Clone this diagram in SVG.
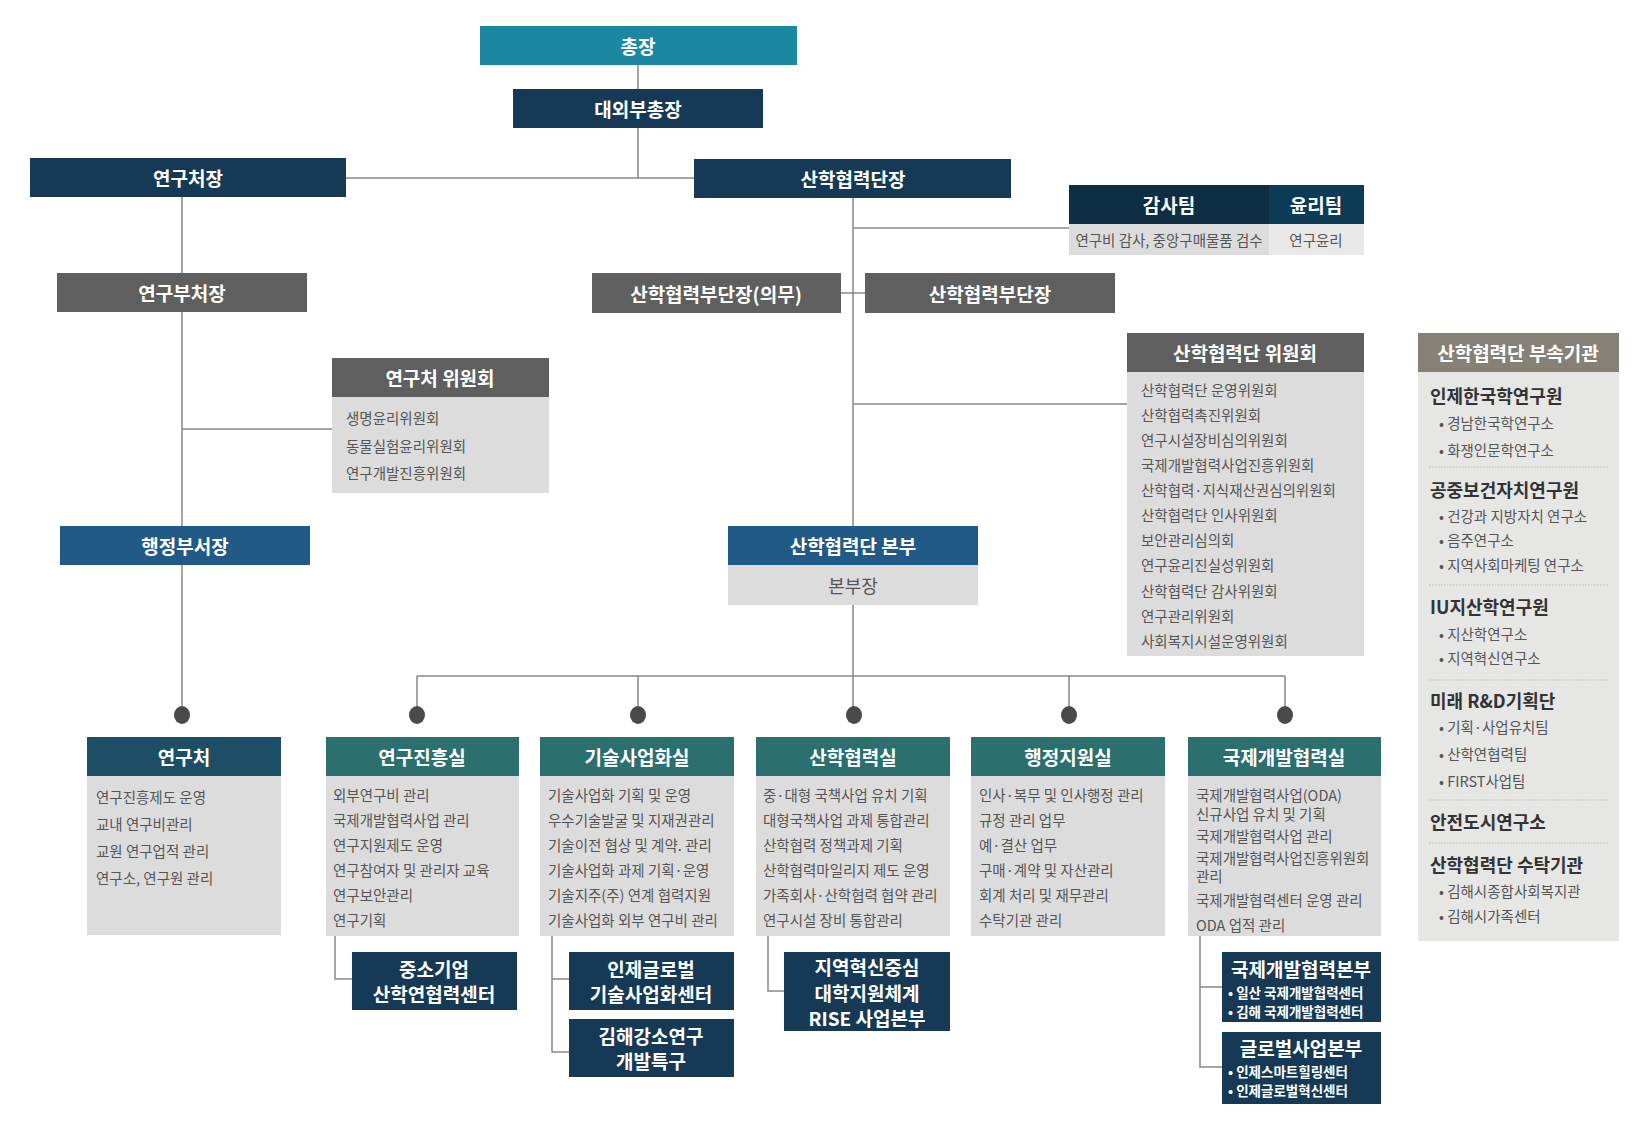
<svg xmlns="http://www.w3.org/2000/svg" width="1644" height="1127" viewBox="0 0 1644 1127">
<style>
text{font-family:"Noto Sans CJK KR","Noto Sans",sans-serif;dominant-baseline:central}
.h{fill:#fff;font-size:19px;font-weight:700;text-anchor:middle}
.b{fill:#555;font-size:14.5px}
.c{fill:#555;font-size:14.5px;text-anchor:middle}
.t{fill:#333;font-size:18px;font-weight:700}
.s{fill:#fff;font-size:13.5px;font-weight:700}
.ln{stroke:#888;stroke-width:1.5;fill:none}
.sep{stroke:#bbb;stroke-width:1;stroke-dasharray:1.5 1.5}
.navy{fill:#163a56}.grey{fill:#5e5f5e}.body{fill:#dcdcdc}.teal{fill:#2b6f6e}
</style>
<g id="connectors">
<path class="ln" d="M638 65V178M346 178H694M182 197V715M853 198V715M853 228H1069M853 404H1127M182 429H332M417 676H1285M417 676V715M638 676V715M1069 676V715M1285 676V715"/>
<path class="ln" d="M841 293H865"/>
<path class="ln" d="M335 936V979H352M552 936V1052H569M552 979H569M768 936V991H784M1200 936V1067H1222M1200 987H1222"/>
<g fill="#4a4a4a"><ellipse cx="182" cy="715" rx="8" ry="9"/><ellipse cx="417" cy="715" rx="8" ry="9"/><ellipse cx="638" cy="715" rx="8" ry="9"/><ellipse cx="854" cy="715" rx="8" ry="9"/><ellipse cx="1069" cy="715" rx="8" ry="9"/><ellipse cx="1285" cy="715" rx="8" ry="9"/></g>
</g>
<g id="president"><rect x="480" y="26" width="317" height="39" fill="#1b87a1"/><text class="h" x="638" y="45">총장</text></g>
<g id="vp"><rect class="navy" x="513" y="89" width="250" height="39"/><text class="h" x="638" y="108">대외부총장</text></g>
<g id="research-head"><rect class="navy" x="30" y="158" width="316" height="39"/><text class="h" x="188" y="177">연구처장</text></g>
<g id="iuc-head"><rect class="navy" x="694" y="159" width="317" height="39"/><text class="h" x="853" y="178">산학협력단장</text></g>
<g id="audit">
<rect x="1069" y="185" width="200" height="39" fill="#0e2f43"/><rect x="1269" y="185" width="95" height="39" fill="#0c3b55"/>
<rect x="1069" y="224" width="200" height="31" fill="#dcdcdc"/><rect x="1269" y="224" width="95" height="31" fill="#e8e8e8"/>
<text class="h" x="1169" y="204">감사팀</text><text class="h" x="1316" y="204">윤리팀</text>
<text class="c" x="1169" y="239">연구비 감사, 중앙구매물품 검수</text><text class="c" x="1316" y="239">연구윤리</text>
</g>
<g id="research-vice"><rect class="grey" x="57" y="273" width="250" height="39"/><text class="h" x="182" y="292">연구부처장</text></g>
<g id="iuc-vice-med"><rect class="grey" x="592" y="273" width="249" height="40"/><text class="h" x="716" y="293">산학협력부단장(의무)</text></g>
<g id="iuc-vice"><rect class="grey" x="865" y="273" width="250" height="40"/><text class="h" x="990" y="293">산학협력부단장</text></g>
<g id="research-committee"><rect class="grey" x="332" y="358" width="217" height="39"/><rect class="body" x="332" y="397" width="217" height="96"/>
<text class="h" x="440" y="377">연구처 위원회</text>
<text class="b" x="346" y="417">생명윤리위원회</text><text class="b" x="346" y="445">동물실험윤리위원회</text><text class="b" x="346" y="472">연구개발진흥위원회</text></g>
<g id="iuc-committee"><rect class="grey" x="1127" y="333" width="237" height="39"/><rect class="body" x="1127" y="372" width="237" height="284"/>
<text class="h" x="1245" y="352">산학협력단 위원회</text>
<text class="b" x="1141" y="389">산학협력단 운영위원회</text><text class="b" x="1141" y="414">산학협력촉진위원회</text><text class="b" x="1141" y="439">연구시설장비심의위원회</text><text class="b" x="1141" y="464">국제개발협력사업진흥위원회</text><text class="b" x="1141" y="489">산학협력·지식재산권심의위원회</text><text class="b" x="1141" y="514">산학협력단 인사위원회</text><text class="b" x="1141" y="539">보안관리심의회</text><text class="b" x="1141" y="564">연구윤리진실성위원회</text><text class="b" x="1141" y="590">산학협력단 감사위원회</text><text class="b" x="1141" y="615">연구관리위원회</text><text class="b" x="1141" y="640">사회복지시설운영위원회</text></g>
<g id="affiliates"><rect x="1418" y="333" width="201" height="39" fill="#858177"/><rect x="1418" y="372" width="201" height="569" fill="#e6e6e5"/>
<text class="h" x="1518" y="352">산학협력단 부속기관</text>
<path class="sep" d="M1429 467H1609M1429 585H1609M1429 680H1609M1429 800H1609M1429 843H1609"/>
<text class="t" x="1430" y="395">인제한국학연구원</text>
<text class="b" x="1439" y="422">•  경남한국학연구소</text><text class="b" x="1439" y="449">•  화쟁인문학연구소</text>
<text class="t" x="1430" y="489">공중보건자치연구원</text>
<text class="b" x="1439" y="515">•  건강과 지방자치 연구소</text><text class="b" x="1439" y="539">•  음주연구소</text><text class="b" x="1439" y="564">•  지역사회마케팅 연구소</text>
<text class="t" x="1430" y="606">IU지산학연구원</text>
<text class="b" x="1439" y="633">•  지산학연구소</text><text class="b" x="1439" y="657">•  지역혁신연구소</text>
<text class="t" x="1430" y="700">미래 R&amp;D기획단</text>
<text class="b" x="1439" y="726">•  기획·사업유치팀</text><text class="b" x="1439" y="753">•  산학연협력팀</text><text class="b" x="1439" y="780">•  FIRST사업팀</text>
<text class="t" x="1430" y="821">안전도시연구소</text>
<text class="t" x="1430" y="864">산학협력단 수탁기관</text>
<text class="b" x="1439" y="890">•  김해시종합사회복지관</text><text class="b" x="1439" y="915">•  김해시가족센터</text></g>
<g id="admin-head"><rect x="60" y="526" width="250" height="39" fill="#225a87"/><text class="h" x="185" y="545">행정부서장</text></g>
<g id="iuc-hq"><rect x="728" y="526" width="250" height="39" fill="#225a87"/><rect class="body" x="728" y="565" width="250" height="40"/>
<text class="h" x="853" y="545">산학협력단 본부</text><text class="c" x="853" y="585" style="font-size:18px">본부장</text></g>
<g id="research-office"><rect x="87" y="737" width="194" height="39" fill="#1c4f66"/><rect class="body" x="87" y="776" width="194" height="159"/>
<text class="h" x="184" y="756">연구처</text>
<text class="b" x="96" y="796">연구진흥제도 운영</text><text class="b" x="96" y="823">교내 연구비관리</text><text class="b" x="96" y="850">교원 연구업적 관리</text><text class="b" x="96" y="877">연구소, 연구원 관리</text></g>
<g id="promotion"><rect class="teal" x="326" y="737" width="193" height="39"/><rect class="body" x="326" y="776" width="193" height="160"/>
<text class="h" x="422" y="756">연구진흥실</text>
<text class="b" x="333" y="794">외부연구비 관리</text><text class="b" x="333" y="819">국제개발협력사업 관리</text><text class="b" x="333" y="844">연구지원제도 운영</text><text class="b" x="333" y="869">연구참여자 및 관리자 교육</text><text class="b" x="333" y="894">연구보안관리</text><text class="b" x="333" y="919">연구기획</text></g>
<g id="techcomm"><rect class="teal" x="540" y="737" width="194" height="39"/><rect class="body" x="540" y="776" width="194" height="160"/>
<text class="h" x="637" y="756">기술사업화실</text>
<text class="b" x="548" y="794">기술사업화 기획 및 운영</text><text class="b" x="548" y="819">우수기술발굴 및 지재권관리</text><text class="b" x="548" y="844">기술이전 협상 및 계약. 관리</text><text class="b" x="548" y="869">기술사업화 과제 기획·운영</text><text class="b" x="548" y="894">기술지주(주) 연계 협력지원</text><text class="b" x="548" y="919">기술사업화 외부 연구비 관리</text></g>
<g id="coop"><rect class="teal" x="756" y="737" width="194" height="39"/><rect class="body" x="756" y="776" width="194" height="160"/>
<text class="h" x="853" y="756">산학협력실</text>
<text class="b" x="763" y="794">중·대형 국책사업 유치 기획</text><text class="b" x="763" y="819">대형국책사업 과제 통합관리</text><text class="b" x="763" y="844">산학협력 정책과제 기획</text><text class="b" x="763" y="869">산학협력마일리지 제도 운영</text><text class="b" x="763" y="894">가족회사·산학협력 협약 관리</text><text class="b" x="763" y="919">연구시설 장비 통합관리</text></g>
<g id="admin"><rect class="teal" x="971" y="737" width="194" height="39"/><rect class="body" x="971" y="776" width="194" height="160"/>
<text class="h" x="1068" y="756">행정지원실</text>
<text class="b" x="979" y="794">인사·복무 및 인사행정 관리</text><text class="b" x="979" y="819">규정 관리 업무</text><text class="b" x="979" y="844">예·결산 업무</text><text class="b" x="979" y="869">구매·계약 및 자산관리</text><text class="b" x="979" y="894">회계 처리 및 재무관리</text><text class="b" x="979" y="919">수탁기관 관리</text></g>
<g id="intl"><rect class="teal" x="1188" y="737" width="193" height="39"/><rect class="body" x="1188" y="776" width="193" height="160"/>
<text class="h" x="1284" y="756">국제개발협력실</text>
<text class="b" x="1196" y="794">국제개발협력사업(ODA)</text><text class="b" x="1196" y="813">신규사업 유치 및 기획</text><text class="b" x="1196" y="835">국제개발협력사업 관리</text><text class="b" x="1196" y="857">국제개발협력사업진흥위원회</text><text class="b" x="1196" y="875">관리</text><text class="b" x="1196" y="899">국제개발협력센터 운영 관리</text><text class="b" x="1196" y="924">ODA 업적 관리</text></g>
<g id="sme"><rect class="navy" x="352" y="952" width="165" height="58"/><text class="h" x="434" y="968">중소기업</text><text class="h" x="434" y="993">산학연협력센터</text></g>
<g id="inje-global"><rect class="navy" x="569" y="952" width="165" height="58"/><text class="h" x="651" y="968">인제글로벌</text><text class="h" x="651" y="993">기술사업화센터</text></g>
<g id="gimhae"><rect class="navy" x="569" y="1019" width="165" height="58"/><text class="h" x="651" y="1035">김해강소연구</text><text class="h" x="651" y="1060">개발특구</text></g>
<g id="rise"><rect class="navy" x="784" y="952" width="166" height="79"/><text class="h" x="867" y="966">지역혁신중심</text><text class="h" x="867" y="992">대학지원체계</text><text class="h" x="867" y="1017">RISE 사업본부</text></g>
<g id="intl-hq"><rect class="navy" x="1222" y="952" width="159" height="70"/><text class="h" x="1301" y="968">국제개발협력본부</text><text class="s" x="1228" y="992">• 일산 국제개발협력센터</text><text class="s" x="1228" y="1011">• 김해 국제개발협력센터</text></g>
<g id="global-hq"><rect class="navy" x="1222" y="1032" width="159" height="72"/><text class="h" x="1301" y="1047">글로벌사업본부</text><text class="s" x="1228" y="1071">• 인제스마트힐링센터</text><text class="s" x="1228" y="1090">• 인제글로벌혁신센터</text></g>
</svg>
